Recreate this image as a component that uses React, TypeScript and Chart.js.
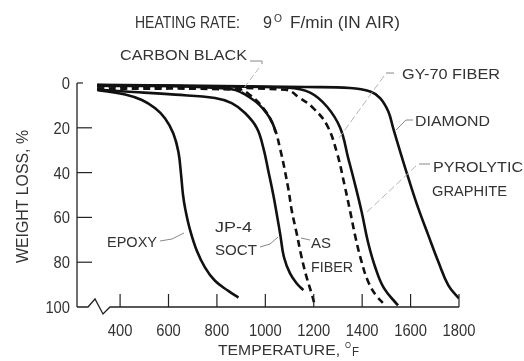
import React, { useEffect, useRef } from "react";
import { Chart, registerables } from "chart.js";
Chart.register(...registerables);

// ---- data (temperature °F, weight loss %) ----
const xTicks = [400, 600, 800, 1000, 1200, 1400, 1600, 1800];
const yTicks = [0, 20, 40, 60, 80, 100];

const epoxyT = [305, 421, 490, 545, 586, 620, 641, 652, 660, 670, 689, 717, 751, 792, 847, 889];
const epoxyW = [3.1, 5.1, 7.6, 11.3, 15.8, 22.5, 30.8, 41.0, 50.0, 56.7, 65.6, 74.9, 82.4, 88.3, 92.8, 95.8];

const jp4T = [305, 421, 627, 792, 861, 916, 965, 992, 1013, 1033, 1048, 1062, 1077, 1102, 1130, 1157];
const jp4W = [3.0, 3.8, 5.2, 6.7, 9.0, 13.4, 20.1, 29.1, 39.6, 50, 59, 67.9, 77.8, 85, 89.5, 92.5];

const asFiberT = [305, 896, 937, 992, 1033, 1061, 1095, 1109, 1130, 1150, 1171, 1192, 1205];
const asFiberW = [2.5, 3.1, 5.4, 11.3, 18.8, 29.3, 47.2, 56.9, 67.4, 77.9, 86.9, 94.3, 99.5];

const carbonBlackT = [305, 854, 951, 1006, 1033, 1042];
const carbonBlackW = [0.9, 2.7, 7.6, 13.6, 18.8, 22];

const gy70T = [305, 1082, 1143, 1198, 1254, 1295, 1327, 1350, 1373, 1398, 1424, 1457, 1495];
const gy70W = [1.5, 3.0, 6.7, 11.2, 18.7, 30.8, 45.5, 57.1, 69.2, 80, 88.5, 94.8, 99.2];

const pyroT = [305, 1094, 1185, 1255, 1309, 1342, 1371, 1398, 1424, 1455, 1490, 1548];
const pyroW = [1.2, 2.1, 4.3, 10.6, 20, 33.4, 45.5, 57.6, 71, 82.6, 91.6, 99.3];

const diamondT = [305, 1170, 1350, 1433, 1474, 1508, 1528, 1557, 1591, 1632, 1673, 1715, 1756, 1800];
const diamondW = [0.8, 1.8, 2.2, 3.8, 6.7, 12.7, 20.1, 30.6, 42.5, 56, 67.9, 79.9, 90.3, 96.2];

const FONT = '"Liberation Sans", Arial, sans-serif';
const TXT = "#333";

function pts(t: number[], w: number[]) {
  return t.map((x, i) => ({ x, y: w[i] }));
}

function fitText(ctx: CanvasRenderingContext2D, text: string, left: number, right: number, baseline: number, size: number) {
  ctx.save();
  ctx.font = `${size}px ${FONT}`;
  const w = ctx.measureText(text).width;
  ctx.translate(left, baseline);
  ctx.scale((right - left) / w, 1);
  ctx.fillStyle = TXT;
  ctx.textAlign = "left";
  ctx.textBaseline = "alphabetic";
  ctx.fillText(text, 0, 0);
  ctx.restore();
}

function poly(ctx: CanvasRenderingContext2D, p: number[][], color: string, width: number, dash: number[] = []) {
  ctx.save();
  ctx.strokeStyle = color;
  ctx.lineWidth = width;
  ctx.setLineDash(dash);
  ctx.beginPath();
  p.forEach(([x, y], i) => (i ? ctx.lineTo(x, y) : ctx.moveTo(x, y)));
  ctx.stroke();
  ctx.restore();
}

const decorPlugin = {
  id: "decor",
  afterDraw(chart: any) {
    const ctx: CanvasRenderingContext2D = chart.ctx;
    const xs = chart.scales.x;
    const ys = chart.scales.y;
    const L = xs.getPixelForValue(xs.min);
    const R = xs.getPixelForValue(1800);
    const T0 = ys.getPixelForValue(0);
    const B = ys.getPixelForValue(100);
    const axis = "#222";

    // y axis
    poly(ctx, [[L, T0], [L, B]], axis, 1.3);
    // x axis with break
    poly(ctx, [[L, B], [L + 11, B], [L + 18, B - 8], [L + 26, B + 7], [L + 33, B], [R, B]], axis, 1.3);

    // ticks
    xTicks.forEach((t) => {
      const x = xs.getPixelForValue(t);
      poly(ctx, [[x, B], [x, B - 13]], axis, 1.2);
    });
    yTicks.forEach((v) => {
      const y = ys.getPixelForValue(v);
      if (v === 100) return;
      poly(ctx, [[L, y], [L + (v === 0 ? 6 : 15), y]], axis, 1.2);
    });

    // tick labels
    xTicks.forEach((t) => {
      const s = String(t);
      const x = xs.getPixelForValue(t);
      const w = s.length * 8.2;
      fitText(ctx, s, x - w / 2, x + w / 2, B + 28.5, 16);
    });
    yTicks.forEach((v) => {
      const s = String(v);
      const w = s.length * 8.2;
      fitText(ctx, s, 70 - w, 70, ys.getPixelForValue(v) + 6, 16);
    });

    // axis titles
    fitText(ctx, "TEMPERATURE,", 218, 340, 355, 15);
    fitText(ctx, "O", 345, 351, 348, 9);
    fitText(ctx, "F", 352, 359, 356, 12);
    ctx.save();
    ctx.translate(28, 263);
    ctx.rotate(-Math.PI / 2);
    fitText(ctx, "WEIGHT LOSS, %", 0, 133, 0, 16);
    ctx.restore();

    // chart title
    fitText(ctx, "HEATING RATE:", 135, 240, 28, 16);
    fitText(ctx, "9", 263, 272, 28, 16);
    fitText(ctx, "O", 274, 282, 22, 10);
    fitText(ctx, "F/min (IN AIR)", 290, 400, 28, 16);

    // curve labels
    fitText(ctx, "CARBON BLACK", 120, 247, 60, 15);
    fitText(ctx, "GY-70 FIBER", 402, 500, 79, 15);
    fitText(ctx, "DIAMOND", 415, 490, 126, 15);
    fitText(ctx, "PYROLYTIC", 433, 523, 172, 15);
    fitText(ctx, "GRAPHITE", 432, 507, 196, 15);
    fitText(ctx, "EPOXY", 107, 157, 247, 15);
    fitText(ctx, "JP-4", 215, 252, 232, 15);
    fitText(ctx, "SOCT", 215, 257, 255, 15);
    fitText(ctx, "AS", 311, 331, 248, 15);
    fitText(ctx, "FIBER", 311, 353, 272, 15);

    // leader lines
    const lg = "#888";
    const ll = "#b5b5b5";
    poly(ctx, [[250, 61], [262, 61], [262, 64]], lg, 1);
    poly(ctx, [[259, 68], [241, 92]], ll, 1, [6, 3]);
    poly(ctx, [[394, 73], [386, 73]], lg, 1);
    poly(ctx, [[384, 76], [339, 138]], ll, 1, [7, 3]);
    poly(ctx, [[413, 120], [406, 120], [396, 130]], lg, 1);
    poly(ctx, [[430, 164], [419, 164]], lg, 1);
    poly(ctx, [[416, 166], [367, 212]], ll, 1, [7, 3]);
    poly(ctx, [[160, 241], [172, 239], [184, 233]], lg, 1);
    poly(ctx, [[260, 247], [270, 244], [278, 237]], lg, 1);
    poly(ctx, [[310, 240], [301, 238]], lg, 1);
  },
};

export default function App() {
  const ref = useRef<HTMLCanvasElement>(null);
  useEffect(() => {
    const canvas = ref.current!;
    const ds = (label: string, t: number[], w: number[], dashed: boolean) => ({
      label,
      data: pts(t, w),
      borderColor: "#111",
      borderWidth: 2.6,
      borderDash: dashed ? [7, 4.5] : [],
      pointRadius: 0,
      fill: false,
      tension: 0.4,
      borderCapStyle: "butt" as const,
      borderJoinStyle: "round" as const,
    });
    const chart = new Chart(canvas, {
      type: "line",
      data: {
        datasets: [
          ds("DIAMOND", diamondT, diamondW, false),
          ds("PYROLYTIC GRAPHITE", pyroT, pyroW, false),
          ds("GY-70 FIBER", gy70T, gy70W, true),
          ds("CARBON BLACK", carbonBlackT, carbonBlackW, false),
          ds("AS FIBER", asFiberT, asFiberW, true),
          ds("JP-4 SOCT", jp4T, jp4W, false),
          ds("EPOXY", epoxyT, epoxyW, false),
        ],
      },
      options: {
        responsive: false,
        animation: false,
        devicePixelRatio: 1,
        events: [],
        layout: { padding: { left: 77, right: 65, top: 83, bottom: 54 } },
        plugins: { legend: { display: false }, tooltip: { enabled: false }, title: { display: false } },
        scales: {
          x: { type: "linear", min: 222, max: 1800, display: false },
          y: { type: "linear", min: 0, max: 100, reverse: true, display: false },
        },
      },
      plugins: [decorPlugin],
    });
    return () => chart.destroy();
  }, []);
  return (
    <div style={{ position: "absolute", left: 0, top: 0, width: 524, height: 361, background: "#fff" }}>
      <canvas ref={ref} width={524} height={361} style={{ display: "block" }} />
    </div>
  );
}
